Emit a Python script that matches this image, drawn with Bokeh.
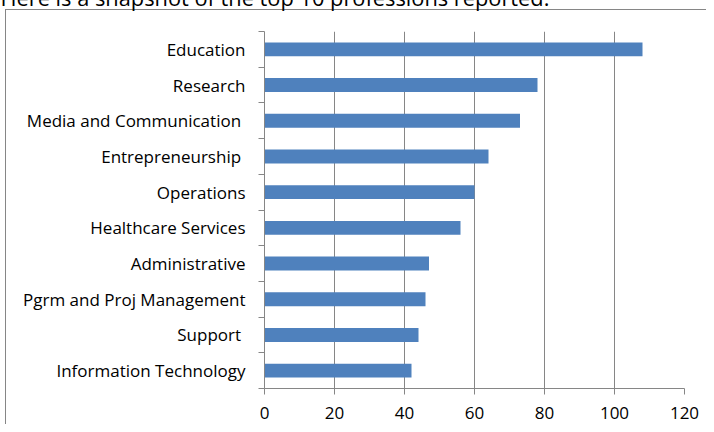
from bokeh.plotting import figure
from bokeh.models import Range1d, FixedTicker, Label
from bokeh.embed import file_html
from bokeh.resources import INLINE

title_text = "Here is a snapshot of the top 10 professions reported."
categories = ["Education", "Research", "Media and Communication ", "Entrepreneurship ",
              "Operations", "Healthcare Services", "Administrative",
              "Pgrm and Proj Management", "Support ", "Information Technology"]
counts = [108, 78, 73, 64, 60, 56, 47, 46, 44, 42]
x_ticks = [0, 20, 40, 60, 80, 100, 120]

n = len(categories)
ys = [n - 0.5 - i for i in range(n)]

grey = "#868686"
font = "Open Sans"

p = figure(width=706, height=424, output_backend="svg", toolbar_location=None,
           x_range=Range1d(0, 120), y_range=Range1d(0, n),
           min_border_left=264, min_border_right=22, min_border_top=31, min_border_bottom=36)
# outer chart-area border (left and top edges; the rest lies outside the window)
p.styles = {
    "background-color": "white",
    "background-image": f"linear-gradient({grey}, {grey}), linear-gradient({grey}, {grey})",
    "background-position": "5px 9px, 5px 9px",
    "background-size": "1px 100%, 100% 1px",
    "background-repeat": "no-repeat, no-repeat",
}
p.outline_line_color = None
p.background_fill_color = "white"
p.border_fill_color = None

p.hbar(y=ys, right=counts, left=0, height=0.39, fill_color="#4F81BD", line_color=None)

xa = p.xaxis[0]
xa.ticker = FixedTicker(ticks=x_ticks)
xa.axis_line_color = grey
xa.major_tick_line_color = grey
xa.major_tick_out = 6
xa.major_tick_in = 0
xa.minor_tick_line_color = None
xa.major_label_text_font = font
xa.major_label_text_font_size = "17px"
xa.major_label_text_color = "black"
xa.major_label_standoff = 12

ya = p.yaxis[0]
ya.ticker = FixedTicker(ticks=ys, minor_ticks=list(range(n + 1)))
ya.major_label_overrides = {y: c for y, c in zip(ys, categories)}
ya.axis_line_color = grey
ya.major_tick_line_color = None
ya.major_tick_out = 0
ya.major_tick_in = 0
ya.minor_tick_line_color = grey
ya.minor_tick_out = 6
ya.minor_tick_in = 0
ya.major_label_text_font = font
ya.major_label_text_font_size = "17px"
ya.major_label_text_color = "black"
ya.major_label_standoff = 13

p.xgrid.ticker = FixedTicker(ticks=x_ticks)
p.xgrid.grid_line_color = grey
p.ygrid.grid_line_color = None

t = Label(x=0, y=-3, x_units="canvas", y_units="canvas", text=title_text,
          text_font=font, text_font_size="21.8px", text_baseline="alphabetic", text_color="black")
p.add_layout(t, "above")

open("out.html", "w").write(file_html(p, INLINE))
